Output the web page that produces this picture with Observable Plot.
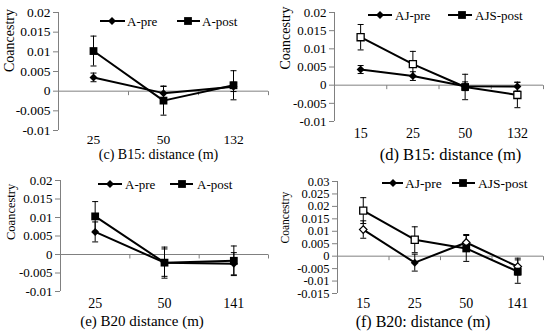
<!DOCTYPE html>
<html><head><meta charset="utf-8">
<script src="https://cdn.jsdelivr.net/npm/d3@7"></script>
<script src="https://cdn.jsdelivr.net/npm/@observablehq/plot@0.6"></script>
<style>
html,body{margin:0;padding:0;background:#fff;}
#wrap{position:relative;width:550px;height:332px;overflow:hidden;background:#fff;}
.panel{position:absolute;width:275px;height:166px;}
.panel svg, .panel svg text{font-family:"Liberation Serif","Times New Roman",Times,serif !important;}
</style></head><body><div id="wrap"></div>
<script>
// ---------- DATA ----------
// (c) B15
const catsC = ["25", "50", "132"];
const preC = [0.0035, -0.0005, 0.0011];
const preErrC = [0.0011, 0.0017, 0.0012];
const postC = [0.0102, -0.0024, 0.0015];
const postErrC = [0.0038, 0.0037, 0.0037];
const preHollowC = [false, false, false];
const postHollowC = [false, false, false];
const yTicksC = [-0.01, -0.005, 0, 0.005, 0.01, 0.015, 0.02];

// (d) B15
const catsD = ["15", "25", "50", "132"];
const preD = [0.0043, 0.0025, -0.0003, -0.0004];
const preErrD = [0.0011, 0.0012, 0.0012, 0.0012];
const postD = [0.0132, 0.0058, -0.0005, -0.0027];
const postErrD = [0.0035, 0.0035, 0.0035, 0.0035];
const preHollowD = [false, false, false, false];
const postHollowD = [true, true, false, true];
const yTicksD = [-0.01, -0.005, 0, 0.005, 0.01, 0.015, 0.02];

// (e) B20
const catsE = ["25", "50", "141"];
const preE = [0.0061, -0.0022, -0.0025];
const preErrE = [0.0027, 0.0042, 0.003];
const postE = [0.0103, -0.0022, -0.0017];
const postErrE = [0.004, 0.0037, 0.004];
const preHollowE = [false, false, false];
const postHollowE = [false, false, false];
const yTicksE = [-0.01, -0.005, 0, 0.005, 0.01, 0.015, 0.02];

// (f) B20
const catsF = ["15", "25", "50", "141"];
const preF = [0.0107, -0.0026, 0.0055, -0.0042];
const preErrF = [0.0035, 0.0034, 0.0032, 0.0034];
const postF = [0.0183, 0.0066, 0.0031, -0.0062];
const postErrF = [0.0052, 0.0052, 0.0052, 0.0047];
const preHollowF = [true, false, true, true];
const postHollowF = [true, true, false, false];
const yTicksF = [-0.015, -0.01, -0.005, 0, 0.005, 0.01, 0.015, 0.02, 0.025, 0.03];

// ---------- PANELS ----------
const FONT = "Liberation Serif, Times New Roman, serif";
const AXIS = "#808080";
const fmt = d => String(+d.toFixed(4));

const capSym = {draw(ctx) { ctx.moveTo(-3, 0); ctx.lineTo(3, 0); }};
const vtickSym = {draw(ctx) { ctx.moveTo(0, 0); ctx.lineTo(0, 4); }};

function makePanel(cfg) {
  const n = cfg.cats.length;
  const idx = d3.range(n);
  const xDomain = [-0.5, n - 0.5];
  const bounds = idx.map(i => i + 0.5);
  const rows = (vals, errs, hollow, s) => idx.map(i => ({i, v: vals[i], e: errs[i], hollow: hollow[i], s}));
  const pre = rows(cfg.pre, cfg.preErr, cfg.preHollow, "pre");
  const post = rows(cfg.post, cfg.postErr, cfg.postHollow, "post");
  const all = pre.concat(post);
  const caps = all.flatMap(d => [{i: d.i, y: d.v - d.e}, {i: d.i, y: d.v + d.e}]);
  const plotH = 166 - cfg.mt - cfg.mb;

  const svg = Plot.plot({
    width: 275, height: 166,
    marginLeft: cfg.ml, marginRight: 275 - cfg.xr, marginTop: cfg.mt, marginBottom: cfg.mb,
    style: `font-family: ${FONT}; font-size: ${cfg.tickFs}px; color: black; background: transparent;`,
    x: {domain: xDomain, axis: null},
    y: {domain: cfg.ydom, axis: null},
    marks: [
      Plot.ruleX([xDomain[0]], {stroke: AXIS, strokeWidth: 1}),
      Plot.axisY({ticks: cfg.yTicks, tickSize: 5, tickPadding: 3, tickFormat: fmt, stroke: AXIS, label: null}),
      Plot.ruleY([0], {stroke: AXIS, strokeWidth: 1}),
      Plot.dot(bounds, {x: d => d, y: 0, symbol: vtickSym, stroke: AXIS, strokeWidth: 1, fill: "none"}),
      Plot.axisX({ticks: idx, tickSize: 0, tickPadding: cfg.xPad, tickFormat: i => cfg.cats[i], fontSize: cfg.xFs, label: null}),
      Plot.ruleX(all, {x: "i", y1: d => d.v - d.e, y2: d => d.v + d.e, stroke: "black", strokeWidth: 1}),
      Plot.dot(caps, {x: "i", y: "y", symbol: capSym, stroke: "black", strokeWidth: 1, fill: "none"}),
      Plot.line(pre, {x: "i", y: "v", stroke: "black", strokeWidth: 2}),
      Plot.line(post, {x: "i", y: "v", stroke: "black", strokeWidth: 2}),
      Plot.dot(pre, {filter: d => !d.hollow, x: "i", y: "v", symbol: "diamond2", r: 3.6, fill: "black"}),
      Plot.dot(pre, {filter: d => d.hollow, x: "i", y: "v", symbol: "diamond2", r: 3.4, fill: "white", stroke: "black", strokeWidth: 1.2}),
      Plot.dot(post, {filter: d => !d.hollow, x: "i", y: "v", symbol: "square", r: 4.4, fill: "black"}),
      Plot.dot(post, {filter: d => d.hollow, x: "i", y: "v", symbol: "square", r: 4.0, fill: "white", stroke: "black", strokeWidth: 1.3}),
      Plot.text([cfg.title], {frameAnchor: "bottom", dx: cfg.titleDx, dy: cfg.titleDy, fontSize: cfg.titleFs, lineAnchor: "middle"}),
      Plot.text(["Coancestry"], {frameAnchor: "left", rotate: -90, dx: cfg.ylx - cfg.ml, dy: cfg.yly - (cfg.mt + plotH / 2), fontSize: cfg.ylFs, lineAnchor: "middle"})
    ]
  });

  // legend
  const g = d3.select(svg).append("g").attr("font-size", cfg.legFs + "px").attr("text-anchor", "start");
  const L = cfg.leg;
  const items = [
    {label: cfg.preName, sym: d3.symbolDiamond2, size: Math.PI * 3.6 * 3.6, p: L.pre},
    {label: cfg.postName, sym: d3.symbolSquare, size: Math.PI * 4.4 * 4.4, p: L.post}
  ];
  for (const it of items) {
    g.append("line").attr("x1", it.p[0]).attr("x2", it.p[1]).attr("y1", L.y).attr("y2", L.y)
      .attr("stroke", "black").attr("stroke-width", 2);
    g.append("path").attr("d", d3.symbol(it.sym, it.size)()).attr("transform", `translate(${it.p[2]},${L.y})`).attr("fill", "black");
    g.append("text").attr("x", it.p[3]).attr("y", L.y).attr("dy", "0.35em").attr("fill", "black")
      .attr("text-anchor", "start").text(it.label);
  }

  const div = document.createElement("div");
  div.className = "panel";
  div.style.left = cfg.left + "px";
  div.style.top = cfg.top + "px";
  div.appendChild(svg);
  document.getElementById("wrap").appendChild(div);
}

makePanel({
  left: 0, top: 0, cats: catsC, pre: preC, preErr: preErrC, post: postC, postErr: postErrC,
  preHollow: preHollowC, postHollow: postHollowC, yTicks: yTicksC, ydom: [-0.01, 0.02],
  ml: 58, xr: 268, mt: 12, mb: 36, tickFs: 13.5, xFs: 13.5, xPad: 4,
  title: "(c) B15: distance (m)", titleFs: 14, titleDx: -5, titleDy: 24,
  ylx: 9, yly: 71.5, ylFs: 14,
  preName: "A-pre", postName: "A-post", legFs: 13,
  leg: {y: 21, pre: [100, 125, 112, 127], post: [177, 200, 188, 202]}
});
makePanel({
  left: 275, top: 0, cats: catsD, pre: preD, preErr: preErrD, post: postD, postErr: postErrD,
  preHollow: preHollowD, postHollow: postHollowD, yTicks: yTicksD, ydom: [-0.01, 0.02],
  ml: 59, xr: 268, mt: 12, mb: 45, tickFs: 13, xFs: 14, xPad: 7,
  title: "(d) B15: distance (m)", titleFs: 16.5, titleDx: 11.5, titleDy: 33,
  ylx: 10, yly: 69, ylFs: 14,
  preName: "AJ-pre", postName: "AJS-post", legFs: 13,
  leg: {y: 15, pre: [93, 117, 105, 120], post: [173, 197, 187, 200]}
});
makePanel({
  left: 0, top: 166, cats: catsE, pre: preE, preErr: preErrE, post: postE, postErr: postErrE,
  preHollow: preHollowE, postHollow: postHollowE, yTicks: yTicksE, ydom: [-0.01, 0.02],
  ml: 60, xr: 268, mt: 14, mb: 41, tickFs: 13, xFs: 14, xPad: 6.5,
  title: "(e) B20 distance (m)", titleFs: 15, titleDx: -22.5, titleDy: 30,
  ylx: 10, yly: 73.5, ylFs: 12.5,
  preName: "A-pre", postName: "A-post", legFs: 13,
  leg: {y: 18, pre: [98, 122, 110, 125], post: [170, 193, 182, 197]}
});
makePanel({
  left: 275, top: 166, cats: catsF, pre: preF, preErr: preErrF, post: postF, postErr: postErrF,
  preHollow: preHollowF, postHollow: postHollowF, yTicks: yTicksF, ydom: [-0.015, 0.03],
  ml: 62, xr: 268, mt: 15, mb: 39, tickFs: 12.5, xFs: 14, xPad: 5,
  title: "(f) B20: distance (m)", titleFs: 16, titleDx: -17.5, titleDy: 28,
  ylx: 10, yly: 77, ylFs: 11.5,
  preName: "AJ-pre", postName: "AJS-post", legFs: 13.5,
  leg: {y: 17, pre: [107, 128, 118, 130], post: [177, 200, 188, 203]}
});
</script></body></html>
